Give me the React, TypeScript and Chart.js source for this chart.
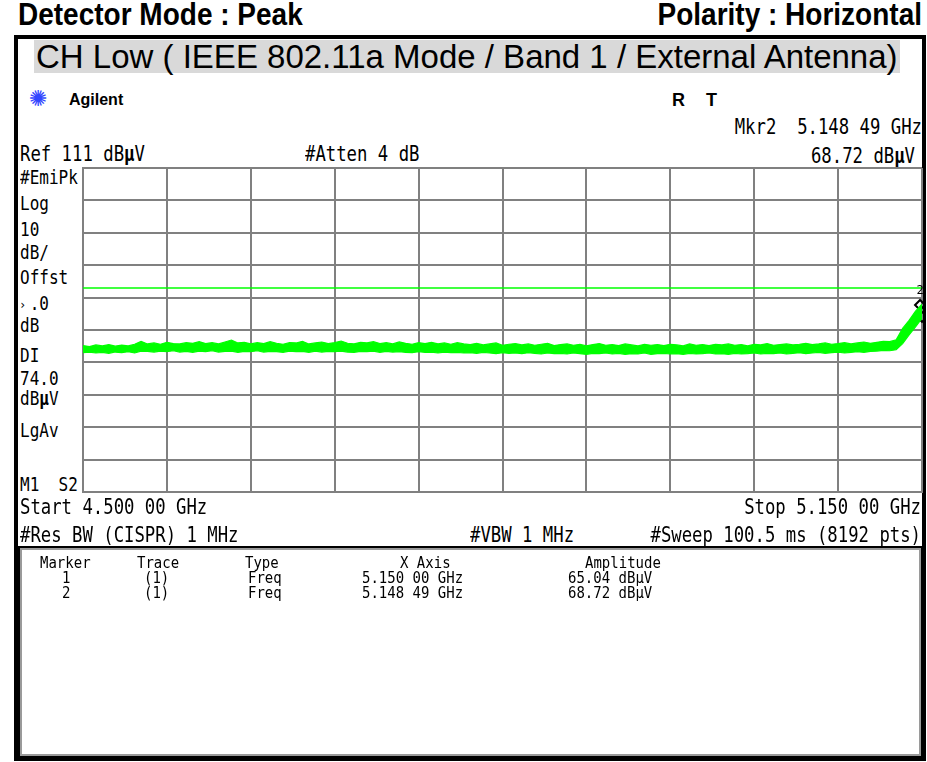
import React, { useEffect, useRef } from 'react';
import { Chart, registerables } from 'chart.js';

Chart.register(...registerables);

// ---- data ----
const freqStartGHz = 4.5;
const freqStopGHz = 5.15;
const refLevel = 111;
const bottomLevel = 11;
const xGridTicks = [4.5, 4.565, 4.63, 4.695, 4.76, 4.825, 4.89, 4.955, 5.02, 5.085, 5.15];
const yGridTicks = [11, 21, 31, 41, 51, 61, 71, 81, 91, 101, 111];
const displayLineLevel = 74.0;

// peak trace envelope (dBµV), 131 sweep bins from 4.500 to 5.150 GHz
const traceUpper = [
  56.2, 55.9, 56.4, 56.1, 56.5, 56.0, 56.3, 56.1, 56.6, 57.5,
  56.7, 57.0, 56.6, 57.2, 56.8, 56.7, 57.1, 56.9, 57.4, 56.8,
  57.1, 56.7, 57.3, 57.9, 57.0, 57.2, 56.7, 57.1, 56.8, 57.4,
  56.9, 56.6, 57.1, 57.0, 57.5, 56.7, 57.0, 57.3, 56.8, 57.1,
  57.6, 56.9, 56.7, 57.2, 57.0, 57.4, 56.8, 57.1, 56.7, 57.3,
  56.9, 56.6, 57.1, 56.8, 57.2, 56.7, 57.0, 56.6, 57.1, 56.7,
  56.5, 56.9, 56.4, 56.7, 57.0, 56.3, 56.6, 56.8, 56.4, 56.7,
  56.3, 56.6, 56.9, 56.2, 56.5, 56.7, 56.3, 56.6, 56.1, 56.5,
  56.8, 56.3, 56.5, 56.2, 56.7, 56.4, 56.1, 56.6, 56.3, 56.5,
  56.2, 56.6, 56.4, 56.1, 56.7, 56.3, 56.5, 56.2, 56.6, 56.4,
  56.7, 56.3, 56.5, 56.1, 56.6, 56.4, 56.8, 56.3, 56.5, 56.7,
  56.4, 56.6, 56.9, 56.5, 56.7, 57.0, 56.6, 56.8, 57.1, 56.7,
  57.0, 57.3, 56.9, 57.2, 57.5, 57.4, 58.0, 61.5, 64.0, 66.8,
  69.0,
];
const traceLower = [
  54.0, 54.2, 53.9, 54.1, 53.8, 54.2, 54.0, 54.3, 53.9, 54.5,
  54.4, 54.2, 54.5, 54.3, 54.6, 54.2, 54.4, 54.1, 54.5, 54.3,
  54.6, 54.2, 54.4, 54.5, 54.1, 54.4, 54.3, 54.6, 54.2, 54.4,
  54.3, 54.1, 54.5, 54.3, 54.4, 54.1, 54.5, 54.2, 54.4, 54.3,
  54.5, 54.2, 54.1, 54.4, 54.3, 54.5, 54.1, 54.4, 54.2, 54.3,
  54.1, 54.0, 54.3, 54.1, 54.2, 53.9, 54.2, 54.0, 54.1, 53.9,
  54.0, 53.8, 54.1, 53.9, 53.7, 54.0, 53.8, 53.9, 53.7, 54.0,
  53.8, 53.6, 53.9, 53.7, 53.8, 53.6, 53.9, 53.7, 53.5, 53.8,
  53.7, 53.9, 53.6, 53.8, 53.5, 53.7, 53.6, 53.9, 53.5, 53.7,
  53.8, 53.6, 53.7, 53.5, 53.8, 53.6, 53.7, 53.9, 53.6, 53.7,
  53.5, 53.8, 53.6, 53.7, 53.9, 53.6, 53.8, 53.7, 53.9, 53.6,
  53.8, 54.0, 53.7, 53.9, 54.1, 53.8, 54.0, 54.2, 53.9, 54.1,
  54.3, 54.1, 54.4, 54.5, 54.7, 54.6, 54.9, 56.8, 59.5, 62.0,
  64.6,
];

const markerNames = ['1', '2'];
const markerFreqs = [5.15, 5.14849];
const markerAmps = [65.04, 68.72];
const activeMarker = '2';

// ---- layout ----
const PLOT_L = 83;
const PLOT_T = 168;
const PLOT_W = 839;
const PLOT_H = 324;
const PAD = 3;

const MONO = '"DejaVu Sans Mono", monospace';
const SANS = '"Liberation Sans", Arial, sans-serif';
const GREEN = '#00ff00';
const GRID = '#808080';

type TProps = {
  x?: number;
  r?: number;
  y: number;
  size: number;
  fam?: 'mono' | 'sans';
  bold?: boolean;
  sy?: number;
  color?: string;
  children: React.ReactNode;
};

function T({ x, r, y, size, fam = 'mono', bold, sy = 1, color = '#000', children }: TProps) {
  const capOff = (fam === 'mono' ? 0.117 : 0.1305) * size * sy;
  const style: React.CSSProperties = {
    position: 'absolute',
    top: y - capOff,
    fontSize: size,
    lineHeight: size + 'px',
    fontFamily: fam === 'mono' ? MONO : SANS,
    fontWeight: bold ? 'bold' : 'normal',
    whiteSpace: 'pre',
    color,
    transform: sy !== 1 ? `scaleY(${sy})` : undefined,
    transformOrigin: r !== undefined ? 'top right' : 'top left',
  };
  if (r !== undefined) style.right = 927 - r;
  else style.left = x;
  return <div style={style}>{children}</div>;
}

const leftLabels: [string, number][] = [
  ['#EmiPk', 170],
  ['Log', 196],
  ['10', 222],
  ['dB/', 245],
  ['Offst', 270],
  [' .0', 296],
  ['dB', 318],
  ['DI', 348],
  ['74.0', 371],
  ['dBµV', 391],
  ['LgAv', 423],
  ['M1  S2', 477],
];

function Analyzer() {
  const ref = useRef<HTMLCanvasElement>(null);
  useEffect(() => {
    if (!ref.current) return;
    const n = traceUpper.length;
    const step = (freqStopGHz - freqStartGHz) / (n - 1);
    const up = traceUpper.map((v, i) => ({ x: freqStartGHz + i * step, y: v }));
    const lo = traceLower.map((v, i) => ({ x: freqStartGHz + i * step, y: v }));
    const markers = markerFreqs.map((f, i) => ({ x: f, y: markerAmps[i] }));

    const markerLabelPlugin = {
      id: 'mkrLabel',
      afterDatasetsDraw(chart: any) {
        const meta = chart.getDatasetMeta(3);
        const c = chart.ctx;
        c.save();
        c.font = '12px "DejaVu Sans Mono"';
        c.fillStyle = '#000';
        c.textAlign = 'center';
        c.textBaseline = 'bottom';
        meta.data.forEach((el: any, i: number) => {
          if (markerNames[i] === activeMarker) c.fillText(markerNames[i], el.x, el.y - 8);
        });
        c.restore();
      },
    };

    const chart = new Chart(ref.current, {
      type: 'line',
      data: {
        datasets: [
          { label: 'upper', data: up, borderColor: GREEN, borderWidth: 1.2, pointRadius: 0, fill: false, tension: 0 },
          { label: 'lower', data: lo, borderColor: GREEN, borderWidth: 1.2, pointRadius: 0, fill: '-1', backgroundColor: GREEN, tension: 0 },
          {
            label: 'display line',
            data: [
              { x: freqStartGHz, y: displayLineLevel },
              { x: freqStopGHz, y: displayLineLevel },
            ],
            borderColor: GREEN,
            borderWidth: 1.5,
            pointRadius: 0,
            fill: false,
          },
          {
            label: 'markers',
            type: 'scatter',
            data: markers,
            pointStyle: 'rectRot',
            pointRadius: 5,
            borderColor: '#000',
            borderWidth: 2,
            backgroundColor: 'rgba(0,0,0,0)',
            clip: false,
          } as any,
        ],
      },
      options: {
        animation: false,
        responsive: false,
        events: [],
        layout: { padding: PAD, autoPadding: false },
        plugins: { legend: { display: false }, tooltip: { enabled: false } },
        scales: {
          x: {
            type: 'linear',
            min: freqStartGHz,
            max: freqStopGHz,
            afterBuildTicks: (s: any) => {
              s.ticks = xGridTicks.map((v) => ({ value: v }));
            },
            ticks: { display: false },
            grid: { color: GRID, lineWidth: 2, drawTicks: false },
            border: { display: true, color: GRID, width: 2 },
          },
          y: {
            type: 'linear',
            min: bottomLevel,
            max: refLevel,
            afterBuildTicks: (s: any) => {
              s.ticks = yGridTicks.map((v) => ({ value: v }));
            },
            ticks: { display: false },
            grid: { color: GRID, lineWidth: 2, drawTicks: false },
            border: { display: true, color: GRID, width: 2 },
          },
        },
      },
      plugins: [markerLabelPlugin],
    } as any);
    return () => chart.destroy();
  }, []);
  const w = PLOT_W + 2 * PAD;
  const h = PLOT_H + 2 * PAD;
  return (
    <canvas
      ref={ref}
      width={w}
      height={h}
      style={{ position: 'absolute', left: PLOT_L - PAD, top: PLOT_T - PAD, width: w, height: h }}
    />
  );
}

export default function App() {
  return (
    <div style={{ position: 'absolute', left: 0, top: 0, width: 927, height: 762, background: '#fff', overflow: 'hidden' }}>
      <T x={18} y={4} size={28} sy={1.1} fam="sans" bold>Detector Mode : Peak</T>
      <T r={922} y={4} size={28} sy={1.1} fam="sans" bold>Polarity : Horizontal</T>

      <div style={{ position: 'absolute', left: 14, top: 35, width: 912, height: 726, border: '4px solid #000', boxSizing: 'border-box' }} />

      <div
        style={{
          position: 'absolute',
          left: 34,
          top: 40,
          height: 33,
          lineHeight: '33px',
          fontSize: 33,
          fontFamily: SANS,
          background: '#d9d9d9',
          padding: '0 2px',
          whiteSpace: 'pre',
        }}
      >
        CH Low ( IEEE 802.11a Mode / Band 1 / External Antenna)
      </div>

      <div style={{ position: 'absolute', left: 29, top: 88, fontSize: 22, lineHeight: '22px', color: '#3346ff', fontFamily: '"DejaVu Sans"' }}>✺</div>
      <T x={69} y={94} size={16} fam="sans" bold>Agilent</T>
      <T x={672} y={93} size={18} fam="sans" bold>R</T>
      <T x={706} y={93} size={18} fam="sans" bold>T</T>

      <T r={922} y={119} size={17.3} sy={1.2}>Mkr2  5.148 49 GHz</T>
      <T x={20} y={146} size={17.3} sy={1.2}>Ref 111 dB<b>µ</b>V</T>
      <T x={305} y={146} size={17.3} sy={1.2}>#Atten 4 dB</T>
      <T r={915} y={148} size={17.3} sy={1.2}>68.72 dB<b>µ</b>V</T>

      {leftLabels.map(([s, y]) => (
        <T key={s} x={20} y={y} size={16} sy={1.2}>
          {s === 'dBµV' ? (
            <>
              dB<b>µ</b>V
            </>
          ) : (
            s
          )}
        </T>
      ))}
      <T x={19} y={300} size={12}>›</T>

      <Analyzer />

      <T x={20} y={499} size={17.3} sy={1.2}>Start 4.500 00 GHz</T>
      <T r={921} y={499} size={17.3} sy={1.2}>Stop 5.150 00 GHz</T>
      <T x={20} y={527} size={17.3} sy={1.2}>#Res BW (CISPR) 1 MHz</T>
      <T x={470} y={527} size={17.3} sy={1.2}>#VBW 1 MHz</T>
      <T r={921} y={527} size={17.3} sy={1.2}>#Sweep 100.5 ms (8192 pts)</T>

      <div
        style={{
          position: 'absolute',
          left: 18,
          top: 546,
          width: 905,
          height: 212,
          border: '2px solid #000',
          boxShadow: 'inset 0 0 0 2px #9a9a9a',
          boxSizing: 'border-box',
        }}
      />

      <T x={40} y={557} size={14} sy={1.1}>Marker</T>
      <T x={137} y={557} size={14} sy={1.1}>Trace</T>
      <T x={245} y={557} size={14} sy={1.1}>Type</T>
      <T x={400} y={557} size={14} sy={1.1}>X Axis</T>
      <T x={585} y={557} size={14} sy={1.1}>Amplitude</T>

      {markerNames.map((m, i) => (
        <React.Fragment key={m}>
          <T x={62} y={572 + i * 15} size={14} sy={1.1}>{m}</T>
          <T x={144} y={572 + i * 15} size={14} sy={1.1}>(1)</T>
          <T x={248} y={572 + i * 15} size={14} sy={1.1}>Freq</T>
          <T x={362} y={572 + i * 15} size={14} sy={1.1}>
            {markerFreqs[i].toFixed(5).replace(/(\d\.\d{3})(\d{2})/, '$1 $2')} GHz
          </T>
          <T x={568} y={572 + i * 15} size={14} sy={1.1}>{markerAmps[i].toFixed(2)} dBµV</T>
        </React.Fragment>
      ))}
    </div>
  );
}
